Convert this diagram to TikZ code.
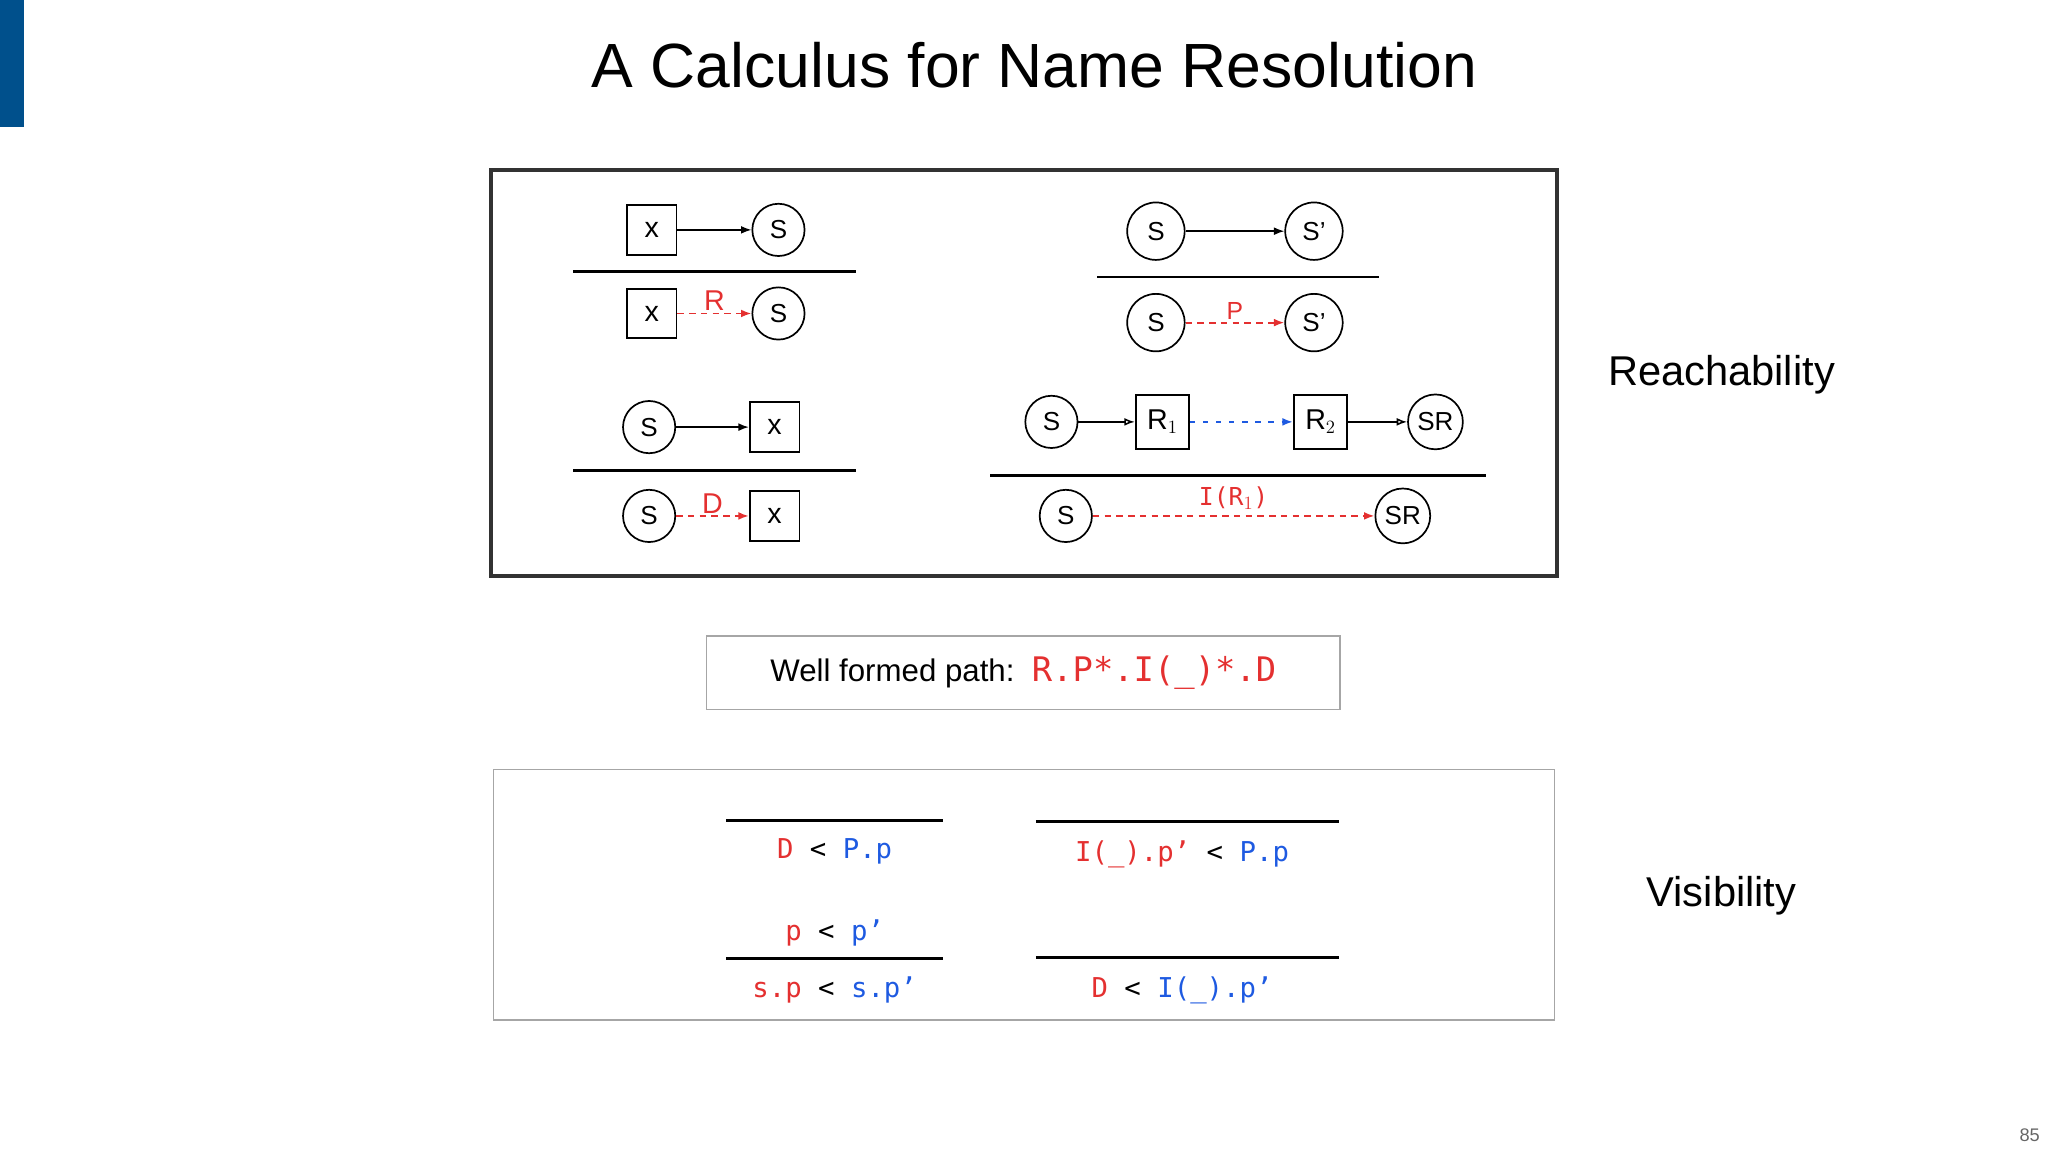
\documentclass[tikz,border=0pt]{standalone}
\usepackage{fontspec}
\setmainfont{Liberation Sans}
\setmonofont{DejaVu Sans Mono}
\usetikzlibrary{arrows.meta}
\definecolor{rd}{RGB}{228,48,48}
\definecolor{bl}{RGB}{30,90,225}
\definecolor{bar}{RGB}{0,80,140}
\tikzset{
  sq/.style={draw,line width=1.3bp,minimum size=38bp,inner sep=0,font=\fontsize{22}{24}\selectfont},
  cir/.style={draw,circle,line width=1.3bp,minimum size=40bp,inner sep=0,font=\fontsize{20}{22}\selectfont},
  bigcir/.style={cir,minimum size=44bp},
  solid arr/.style={line width=1.2bp,-{Latex[length=8bp,width=6bp]}},
  open arr/.style={line width=1.2bp,-{Latex[open,length=8bp,width=6bp]}},
  red arr/.style={rd,line width=1.4bp,dashed,dash pattern=on 5bp off 4bp,-{Latex[length=8bp,width=6bp]}},
  blue arr/.style={bl,line width=1.4bp,dash pattern=on 4bp off 6bp,-{Latex[length=8bp,width=6bp]}},
  rule/.style={line width=2bp},
  lbl/.style={rd,font=\fontsize{22}{24}\selectfont},
  vis/.style={font=\ttfamily\fontsize{21}{24}\selectfont},
}
\begin{document}
\begin{tikzpicture}[x=1bp,y=-1bp]
\useasboundingbox (0,0) rectangle (1568,882);
\fill[bar] (0,0) rectangle (18,97);
\node (title) at (792,50) {\fontsize{48}{54}\selectfont A Calculus for Name Resolution};
\draw[line width=3bp,draw={rgb,255:red,50;green,50;blue,50}] (376,130) rectangle (1192,441);
% rule 1
\node[sq] (x1) at (499,176) {x};
\node[cir] (s1) at (596,176) {S};
\draw[solid arr] (x1) -- (s1);
\draw[rule] (439,208) -- (655,208);
\node[sq] (x1b) at (499,240) {x};
\node[cir] (s1b) at (596,240) {S};
\draw[red arr] (x1b) -- node[lbl,above=-2bp] (lR) {R} (s1b);
% rule 2
\node[bigcir] (s2) at (885,177) {S};
\node[bigcir] (s2p) at (1006,177) {S’};
\draw[solid arr] (s2) -- (s2p);
\draw[rule] (840,212) -- (1056,212);
\node[bigcir] (s2b) at (885,247) {S};
\node[bigcir] (s2pb) at (1006,247) {S’};
\draw[red arr] (s2b) -- node[lbl,above=-2bp,font=\fontsize{19}{21}\selectfont] (lP) {P} (s2pb);
% rule 3
\node[cir] (s3) at (497,327) {S};
\node[sq] (x3) at (593,327) {x};
\draw[solid arr] (s3) -- (x3);
\draw[rule] (439,360) -- (655,360);
\node[cir] (s3b) at (497,395) {S};
\node[sq] (x3b) at (593,395) {x};
\draw[red arr] (s3b) -- node[lbl,above=-2bp] (lD) {D} (x3b);
% rule 4
\node[cir] (s4) at (805,323) {S};
\node[sq,minimum size=41bp] (r1) at (890,323) {R$_1$};
\node[sq,minimum size=41bp] (r2) at (1011,323) {R$_2$};
\node[cir,minimum size=42bp] (sr) at (1099,323) {SR};
\draw[open arr] (s4) -- (r1);
\draw[blue arr] (r1) -- (r2);
\draw[open arr] (r2) -- (sr);
\draw[rule] (758,364) -- (1138,364);
\node[cir] (s4b) at (816,395) {S};
\node[cir,minimum size=42bp] (srb) at (1074,395) {SR};
\draw[red arr] (s4b) -- node[rd,above=1bp,font=\ttfamily\fontsize{19}{21}\selectfont] (lI) {I(R$_1$)} (srb);
\node (reach) at (1318,287) {\fontsize{32}{36}\selectfont Reachability};
% well formed
\node[draw=gray!70,line width=1bp,minimum width=485bp,minimum height=56bp] (wf) at (783.5,515)
  {\fontsize{24}{28}\selectfont Well formed path:\ \ \textcolor{rd}{\ttfamily\fontsize{26}{28}\selectfont R.P*.I(\_)*.D}};
% visibility
\draw[gray!70,line width=1bp] (378,589) rectangle (1190,781);
\draw[rule] (556,628) -- (722,628);
\node[vis] (v1) at (639,652) {\textcolor{rd}{D} < \textcolor{bl}{P.p}};
\draw[rule] (793,629) -- (1025,629);
\node[vis] (v2) at (905,654) {\textcolor{rd}{I(\_).p’} < \textcolor{bl}{P.p}};
\node[vis] (v3) at (639,714) {\textcolor{rd}{p} < \textcolor{bl}{p’}};
\draw[rule] (556,734) -- (722,734);
\node[vis] (v4) at (639,758) {\textcolor{rd}{s.p} < \textcolor{bl}{s.p’}};
\draw[rule] (793,733) -- (1025,733);
\node[vis] (v5) at (905,758) {\textcolor{rd}{D} < \textcolor{bl}{I(\_).p’}};
\node (visib) at (1318,686) {\fontsize{32}{36}\selectfont Visibility};
\node[gray!80!black] (pg) at (1554,869) {\fontsize{14}{16}\selectfont 85};
\end{tikzpicture}
\end{document}
